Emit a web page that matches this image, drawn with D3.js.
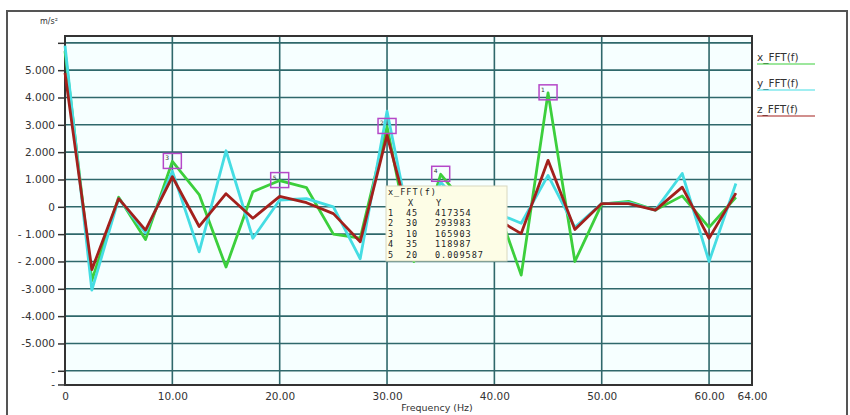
<!DOCTYPE html>
<html lang="en">
<head>
  <meta charset="UTF-8">
  <title>FFT chart</title>
  <script src="https://d3js.org/d3.v7.min.js"></script>
  <style>
    body { margin: 0; background: #fff; }
    text { font-family: "DejaVu Sans", Verdana, sans-serif; fill: #333; }
    .tick-label { font-size: 10.5px; }
    .tip text { font-family: "DejaVu Sans Mono", monospace; font-size: 8.5px; letter-spacing: 1px; fill: #222; }
  </style>
</head>
<body>
  <div id="chart"></div>
  <script>
    // frequencies (Hz) and FFT amplitudes (m/s²) per axis
    const freq = [0, 2.5, 5, 7.5, 10, 12.5, 15, 17.5, 20, 22.5, 25, 27.5, 30,
                  32.5, 35, 37.5, 40, 42.5, 45, 47.5, 50, 52.5, 55, 57.5, 60, 62.5];
    const xFFT = [5.7, -2.7, 0.35, -1.2, 1.66, 0.45, -2.2, 0.55, 0.96, 0.7, -1.0, -1.15, 2.94,
                  -2.0, 1.19, 0.0, 0.3, -2.5, 4.17, -2.0, 0.1, 0.2, -0.12, 0.4, -0.75, 0.35];
    const yFFT = [5.9, -3.05, 0.3, -0.95, 1.3, -1.65, 2.05, -1.15, 0.25, 0.3, 0.0, -1.9, 3.5,
                  -1.4, 0.9, -0.2, -0.2, -0.6, 1.15, -0.75, 0.12, 0.15, -0.12, 1.22, -2.0, 0.85];
    const zFFT = [4.9, -2.3, 0.3, -0.85, 1.1, -0.72, 0.48, -0.42, 0.38, 0.15, -0.25, -1.28, 2.62,
                  -1.1, 0.4, -0.3, -0.4, -0.98, 1.7, -0.83, 0.12, 0.12, -0.12, 0.72, -1.15, 0.5];

    const seriesNames = ["x_FFT(f)", "y_FFT(f)", "z_FFT(f)"];
    const seriesColors = ["#3ccf3c", "#45dde3", "#a3201c"];

    const xTicks = [0, 10, 20, 30, 40, 50, 60, 64];
    const xTickLabels = ["0", "10.00", "20.00", "30.00", "40.00", "50.00", "60.00", "64.00"];
    const yTicks = [6, 5, 4, 3, 2, 1, 0, -1, -2, -3, -4, -5, -6, -6.5];
    const yTickLabels = ["", "5.000", "4.000", "3.000", "2.000", "1.000", "0",
                         "- 1.000", "- 2.000", "-3.000", "-4.000", "-5.000", "-", "-"];
    const gridY = [6, 5, 4, 3, 2, 1, 0, -1, -2, -3, -4, -5, -6];
    const gridX = [10, 20, 30, 40, 50, 60];

    // marked peaks of x_FFT(f) shown in the tooltip
    const tipRank = [1, 2, 3, 4, 5];
    const tipX = [45, 30, 10, 35, 20];
    const tipY = ["417354", "293983", "165903", "118987", "0.009587"];

    const W = 850, H = 415;
    const plot = { left: 65, top: 36, right: 752, bottom: 385 };

    const svg = d3.select("#chart").append("svg")
      .attr("width", W).attr("height", H);

    // outer frame
    svg.append("rect")
      .attr("x", 7).attr("y", 11).attr("width", 840).attr("height", 420)
      .attr("fill", "#fff").attr("stroke", "#555").attr("stroke-width", 2);

    const x = d3.scaleLinear().domain([0, 64]).range([plot.left, plot.right]);
    const y = d3.scaleLinear().domain([-6.52, 6.25]).range([plot.bottom, plot.top]);

    // plot background
    svg.append("rect")
      .attr("x", plot.left).attr("y", plot.top)
      .attr("width", plot.right - plot.left).attr("height", plot.bottom - plot.top)
      .attr("fill", "#f6ffff");

    // grid
    svg.append("g").selectAll("line").data(gridY).join("line")
      .attr("x1", plot.left).attr("x2", plot.right)
      .attr("y1", d => y(d)).attr("y2", d => y(d))
      .attr("stroke", "#2f686b").attr("stroke-width", 1.6);
    svg.append("g").selectAll("line").data(gridX).join("line")
      .attr("y1", plot.top).attr("y2", plot.bottom)
      .attr("x1", d => x(d)).attr("x2", d => x(d))
      .attr("stroke", "#2f686b").attr("stroke-width", 1.6);

    // axes
    const yAxis = svg.append("g")
      .attr("transform", `translate(${plot.left},0)`)
      .call(d3.axisLeft(y).tickValues(yTicks).tickSize(7).tickPadding(3)
        .tickFormat((d, i) => yTickLabels[i]));
    yAxis.select(".domain").remove();
    yAxis.selectAll("line").attr("stroke", "#333").attr("stroke-width", 1.5);
    yAxis.selectAll("text").attr("class", "tick-label").attr("fill", "#333");

    const xAxis = svg.append("g")
      .attr("transform", `translate(0,${plot.bottom})`)
      .call(d3.axisBottom(x).tickValues(xTicks).tickSize(0).tickPadding(8)
        .tickFormat((d, i) => xTickLabels[i]));
    xAxis.select(".domain").remove();
    xAxis.selectAll("text").attr("class", "tick-label").attr("fill", "#333");

    // plot border
    svg.append("rect")
      .attr("x", plot.left).attr("y", plot.top)
      .attr("width", plot.right - plot.left).attr("height", plot.bottom - plot.top)
      .attr("fill", "none").attr("stroke", "#333").attr("stroke-width", 2);

    // unit and axis title
    svg.append("text").attr("x", 49).attr("y", 24).attr("text-anchor", "middle")
      .style("font-size", "8px").attr("fill", "#555").text("m/s²");
    svg.append("text").attr("x", 437).attr("y", 411).attr("text-anchor", "middle")
      .style("font-size", "9.5px").text("Frequency (Hz)");

    // lines
    const line = d3.line().x(d => x(d[0])).y(d => y(d[1]));
    [xFFT, yFFT, zFFT].forEach((vals, k) => {
      svg.append("path")
        .datum(freq.map((f, i) => [f, vals[i]]))
        .attr("fill", "none")
        .attr("stroke", seriesColors[k])
        .attr("stroke-width", 2.8)
        .attr("stroke-linejoin", "round")
        .attr("d", line);
    });

    // peak markers on x_FFT(f)
    const marks = svg.append("g");
    tipX.forEach((f, i) => {
      const v = xFFT[freq.indexOf(f)];
      marks.append("rect")
        .attr("x", x(f) - 9).attr("y", y(v) - 8)
        .attr("width", 18).attr("height", 15)
        .attr("fill", "none").attr("stroke", "#b548c8").attr("stroke-width", 1.5);
      marks.append("text")
        .attr("x", x(f) - 7).attr("y", y(v) - 1)
        .style("font-size", "6px").attr("fill", "#b548c8").text(tipRank[i]);
    });

    // tooltip
    const tip = svg.append("g").attr("class", "tip").attr("transform", "translate(386,186)");
    tip.append("rect").attr("width", 121).attr("height", 75)
      .attr("fill", "#fdfde6").attr("stroke", "#d8d8c0");
    tip.append("text").attr("x", 2).attr("y", 9).text("x_FFT(f)");
    tip.append("text").attr("x", 22).attr("y", 19.5).text("X");
    tip.append("text").attr("x", 50).attr("y", 19.5).text("Y");
    tipRank.forEach((r, i) => {
      const ty = 30 + i * 10.4;
      tip.append("text").attr("x", 2).attr("y", ty).text(r);
      tip.append("text").attr("x", 20).attr("y", ty).text(tipX[i]);
      tip.append("text").attr("x", 49).attr("y", ty).text(tipY[i]);
    });

    // legend
    const legend = svg.append("g");
    seriesNames.forEach((name, i) => {
      const ly = 61 + i * 26;
      legend.append("text").attr("x", 757).attr("y", ly)
        .style("font-size", "10.5px").attr("fill", "#444").text(name);
      legend.append("line")
        .attr("x1", 757).attr("x2", 815).attr("y1", ly + 3).attr("y2", ly + 3)
        .attr("stroke", seriesColors[i]).attr("stroke-width", 1.2);
    });
  </script>
</body>
</html>
